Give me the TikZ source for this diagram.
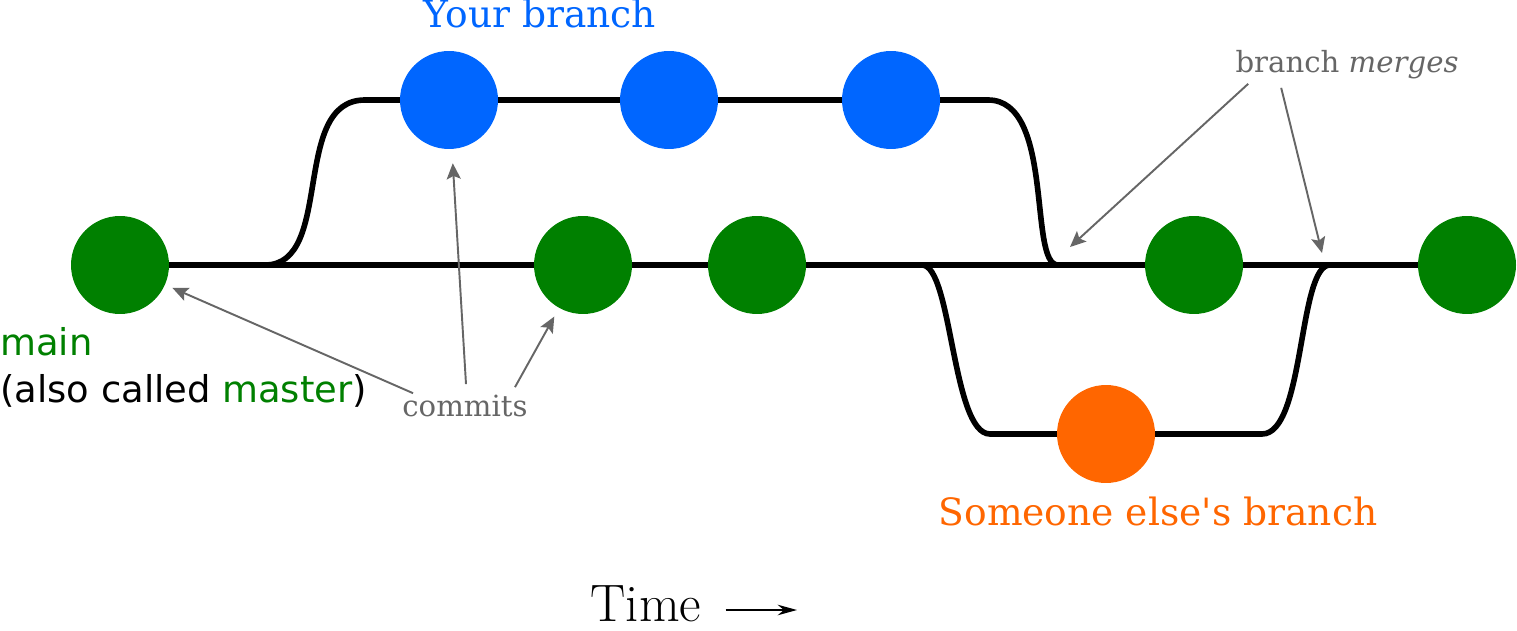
\documentclass[tikz,border=0pt]{standalone}
\usepackage{fontspec}
\usetikzlibrary{arrows.meta,backgrounds}
\newfontfamily\dejasans{DejaVu Sans}
\newfontfamily\dejaserif{DejaVu Serif}
\definecolor{MainGreen}{RGB}{0,128,0}
\definecolor{MineBlue}{RGB}{0,102,255}
\definecolor{OtherOrange}{RGB}{255,102,0}
\definecolor{NoteGray}{RGB}{102,102,102}

\begin{document}
\begin{tikzpicture}[x=0.02cm, y=-0.02cm,
        commit/.style={circle, fill=#1, minimum size=1.96cm, inner sep=0pt},
        track/.style={line width=3.2pt},
        branchtag/.style={inner sep=0pt, anchor=base, font=\dejaserif\fontsize{21.4}{25}\selectfont},
        maintag/.style={inner sep=0pt, anchor=base west, font=\dejasans\fontsize{21}{25}\selectfont},
        note/.style={inner sep=0pt, anchor=base, text=NoteGray, font=\dejaserif\fontsize{16.6}{20}\selectfont},
        ptr/.style={-{Stealth[length=9pt,width=8pt,inset=1.8pt]}, draw=NoteGray, line width=1.1pt}
    ]
    \useasboundingbox (0,0) rectangle (1517,631);

    % commits
    \node[commit=MainGreen]   (m1) at (120,265)  {};
    \node[commit=MainGreen]   (m2) at (583,265)  {};
    \node[commit=MainGreen]   (m3) at (757,265)  {};
    \node[commit=MainGreen]   (m4) at (1194,265) {};
    \node[commit=MainGreen]   (m5) at (1467,265) {};
    \node[commit=MineBlue]    (b1) at (449,100)  {};
    \node[commit=MineBlue]    (b2) at (669,100)  {};
    \node[commit=MineBlue]    (b3) at (891,100)  {};
    \node[commit=OtherOrange] (o1) at (1106,434) {};

    % fork and merge points
    \coordinate (forkA)  at (265,265);
    \coordinate (joinA)  at (1058,265);
    \coordinate (forkB)  at (868,265);
    \coordinate (joinB)  at (1375,265);
    \coordinate (mergeA) at (1070,247);
    \coordinate (mergeB) at (1322,253);
    \coordinate (later)  at (797,610);

    \begin{scope}[on background layer]
        \draw[track] (m1.center) -- (m5.center);
        \draw[track] (forkA) .. controls (335,265) and (290,100) .. (365,100)
            -- (b1.center) -- (b3.center) -- (988,100)
            .. controls (1055,100) and (1028,265) .. (joinA);
        \draw[track] (forkB) -- (922,265) .. controls (952,265) and (952,434) .. (990,434)
            -- (o1.center) -- (1262,434)
            .. controls (1305,434) and (1298,265) .. (1330,265) -- (joinB);
    \end{scope}

    % labels
    \node[branchtag, text=MineBlue]    (yours)  at (540,28)   {Your branch};
    \node[branchtag, text=OtherOrange] (theirs) at (1158,525) {Someone else's branch};
    \node[maintag, text=MainGreen] (maintxt) at (0,356) {main};
    \node[maintag] (mastertxt) at (0,402) {(also called \textcolor{MainGreen}{master})};
    \node[note] (commits) at (465,416) {commits};
    \node[note] (merges)  at (1347,73) {branch \textit{merges}};
    \node[inner sep=0pt, anchor=base, font=\fontsize{30}{34}\selectfont] (time) at (646,621) {Time};

    % pointers
    \draw[ptr, shorten >=4.5pt] ([xshift=0.22cm, yshift=0.02cm]commits.north west) -- (m1);
    \draw[ptr, shorten >=8pt]   ([xshift=0.02cm, yshift=0.2cm]commits.north) -- (b1);
    \draw[ptr, shorten >=5.5pt] ([xshift=-0.26cm, yshift=0.14cm]commits.north east) -- (m2);
    \draw[ptr] ([xshift=0.26cm, yshift=-0.08cm]merges.south west) -- (mergeA);
    \draw[ptr] ([xshift=0.92cm, yshift=-0.16cm]merges.south west) -- (mergeB);
    \draw[-{Stealth[length=11pt,width=6pt]}, line width=1.1pt] (time.east |- later) ++(0.48cm,0) -- (later);
\end{tikzpicture}
\end{document}
